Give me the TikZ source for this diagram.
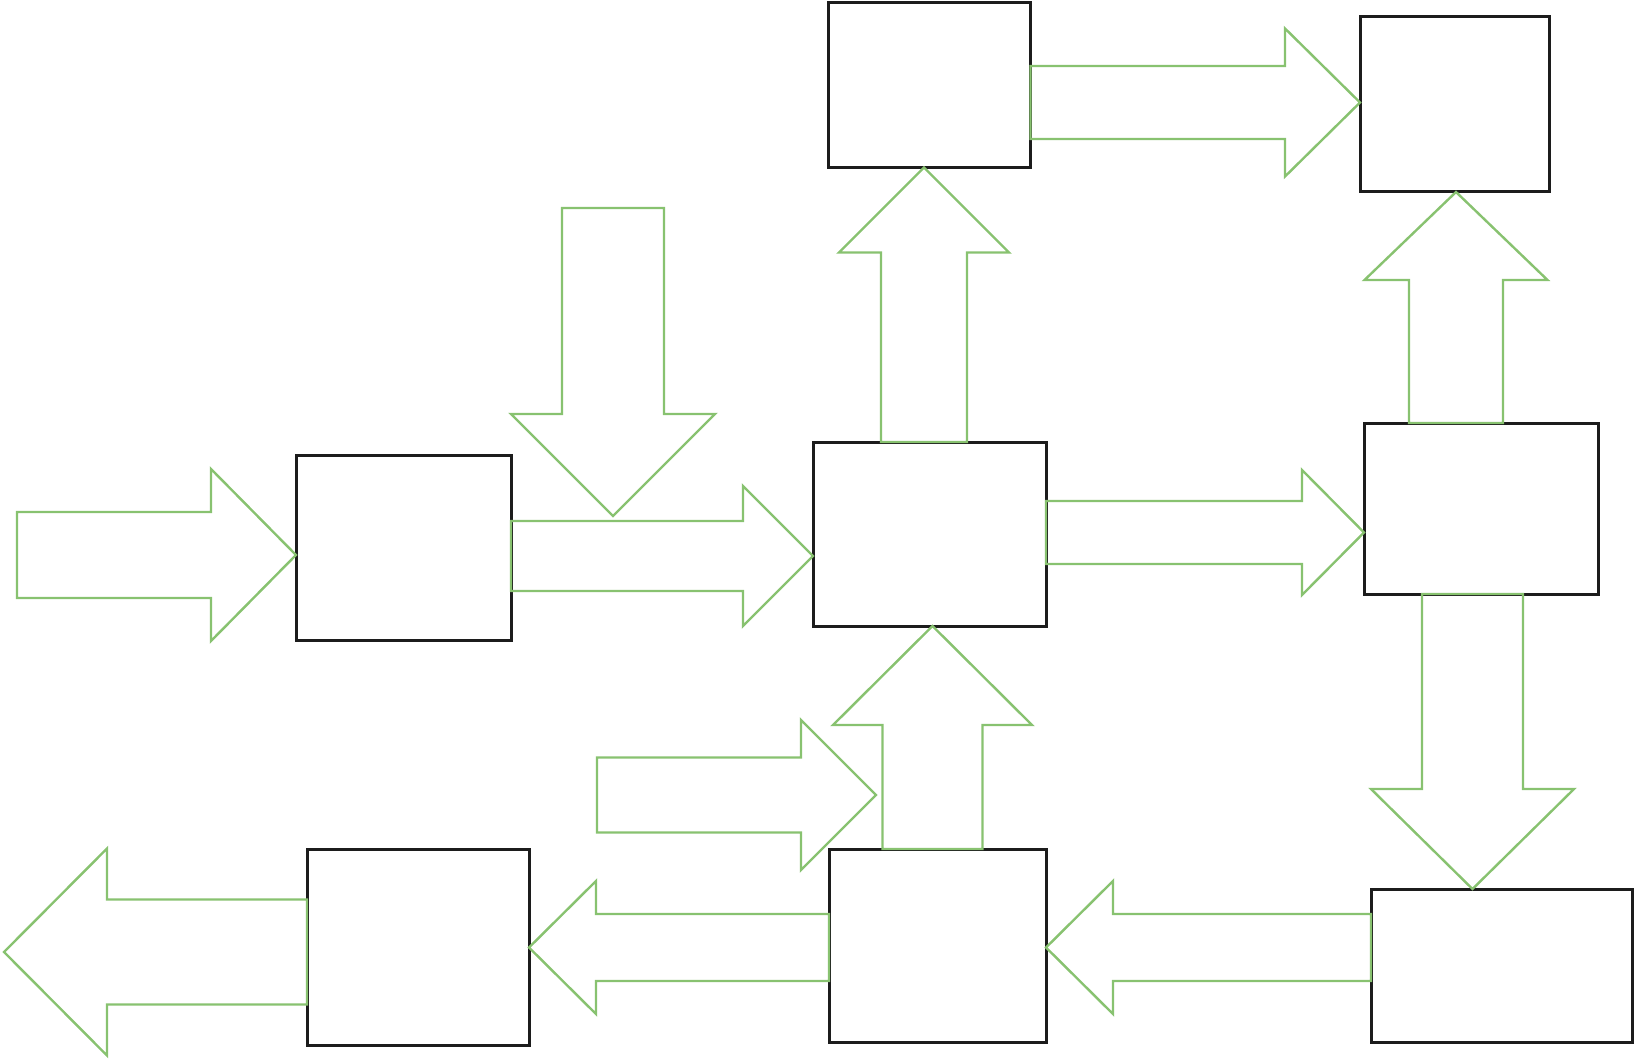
\documentclass[tikz,border=0pt]{standalone}
\usetikzlibrary{calc}
\definecolor{leafgreen}{RGB}{136,194,112}
\definecolor{boxblack}{RGB}{28,28,28}
\tikzset{
  block/.style={rectangle, draw=boxblack, line width=3pt, inner sep=0pt, outer sep=0pt},
  fatline/.style={draw=leafgreen, line width=2.4pt, line join=miter},
}
% block arrow: tail, tip, shaft half width, head half width, head length
\newcommand{\fatarrow}[5]{%
  \coordinate (fa-t) at #1;
  \coordinate (fa-p) at #2;
  \coordinate (fa-h) at ($(fa-p)!#5!(fa-t)$);
  \draw[fatline] ($(fa-t)!#3!90:(fa-p)$) -- ($(fa-h)!#3!-90:(fa-t)$) -- ($(fa-h)!#4!-90:(fa-t)$)
    -- (fa-p) -- ($(fa-h)!#4!90:(fa-t)$) -- ($(fa-h)!#3!90:(fa-t)$) -- ($(fa-t)!#3!-90:(fa-p)$) -- cycle;
}

\begin{document}
\begin{tikzpicture}[x=1pt, y=-1pt]
  \useasboundingbox (0,0) rectangle (1634,1062);

  % ---- Boxes ----
  \node (midleft) [block, minimum width=215pt, minimum height=185pt] at (403.5,547.5) {};
  \node (topmid) [block, minimum width=202pt, minimum height=165pt] at (929.5,85) {};
  \node (topright) [block, minimum width=189pt, minimum height=175pt] at (1454.5,104.5) {};
  \node (center) [block, minimum width=233pt, minimum height=184pt] at (929.5,534) {};
  \node (midright) [block, minimum width=234pt, minimum height=171pt] at (1481,508.5) {};
  \node (botleft) [block, minimum width=222pt, minimum height=196pt] at (418,947) {};
  \node (botmid) [block, minimum width=217pt, minimum height=193pt] at (937.5,945.5) {};
  \node (botright) [block, minimum width=261pt, minimum height=153pt] at (1501.5,965.5) {};

  % ---- Free ends ----
  \coordinate (feed) at (17,555);
  \coordinate (dropin) at (613,208);
  \coordinate (dropat) at (613,516);
  \coordinate (sidein) at (597,795);
  \coordinate (sideat) at (876,795);
  \coordinate (outlet) at (4,952);

  % ---- Arrows ----
  \fatarrow{(feed)}{(midleft.west |- feed)}{43pt}{86pt}{85pt}
  \fatarrow{(midleft.east |- 0,556)}{(center.west |- 0,556)}{35pt}{70pt}{70pt}
  \fatarrow{(dropin)}{(dropat)}{51pt}{102pt}{102pt}
  \fatarrow{(center.north -| 924,0)}{(topmid.south -| 924,0)}{43pt}{85pt}{85pt}
  \fatarrow{(topmid.east |- 0,102.5)}{(topright.west |- 0,102.5)}{36.5pt}{74pt}{75pt}
  \fatarrow{(center.east |- 0,532.5)}{(midright.west |- 0,532.5)}{31.5pt}{62.5pt}{62pt}
  \fatarrow{(midright.north -| 1456,0)}{(topright.south -| 1456,0)}{47pt}{91.5pt}{88pt}
  \fatarrow{(midright.south -| 1472.5,0)}{(botright.north -| 1472.5,0)}{50.5pt}{101.5pt}{100pt}
  \fatarrow{(botright.west |- 0,947.5)}{(botmid.east |- 0,947.5)}{33.5pt}{66.5pt}{67pt}
  \fatarrow{(botmid.north -| 932.5,0)}{(center.south -| 932.5,0)}{50pt}{99.5pt}{99pt}
  \fatarrow{(sidein)}{(sideat)}{37.5pt}{75pt}{75pt}
  \fatarrow{(botmid.west |- 0,947.5)}{(botleft.east |- 0,947.5)}{33.5pt}{66.5pt}{67pt}
  \fatarrow{(botleft.west |- outlet)}{(outlet)}{52.5pt}{103.5pt}{103pt}

\end{tikzpicture}
\end{document}
